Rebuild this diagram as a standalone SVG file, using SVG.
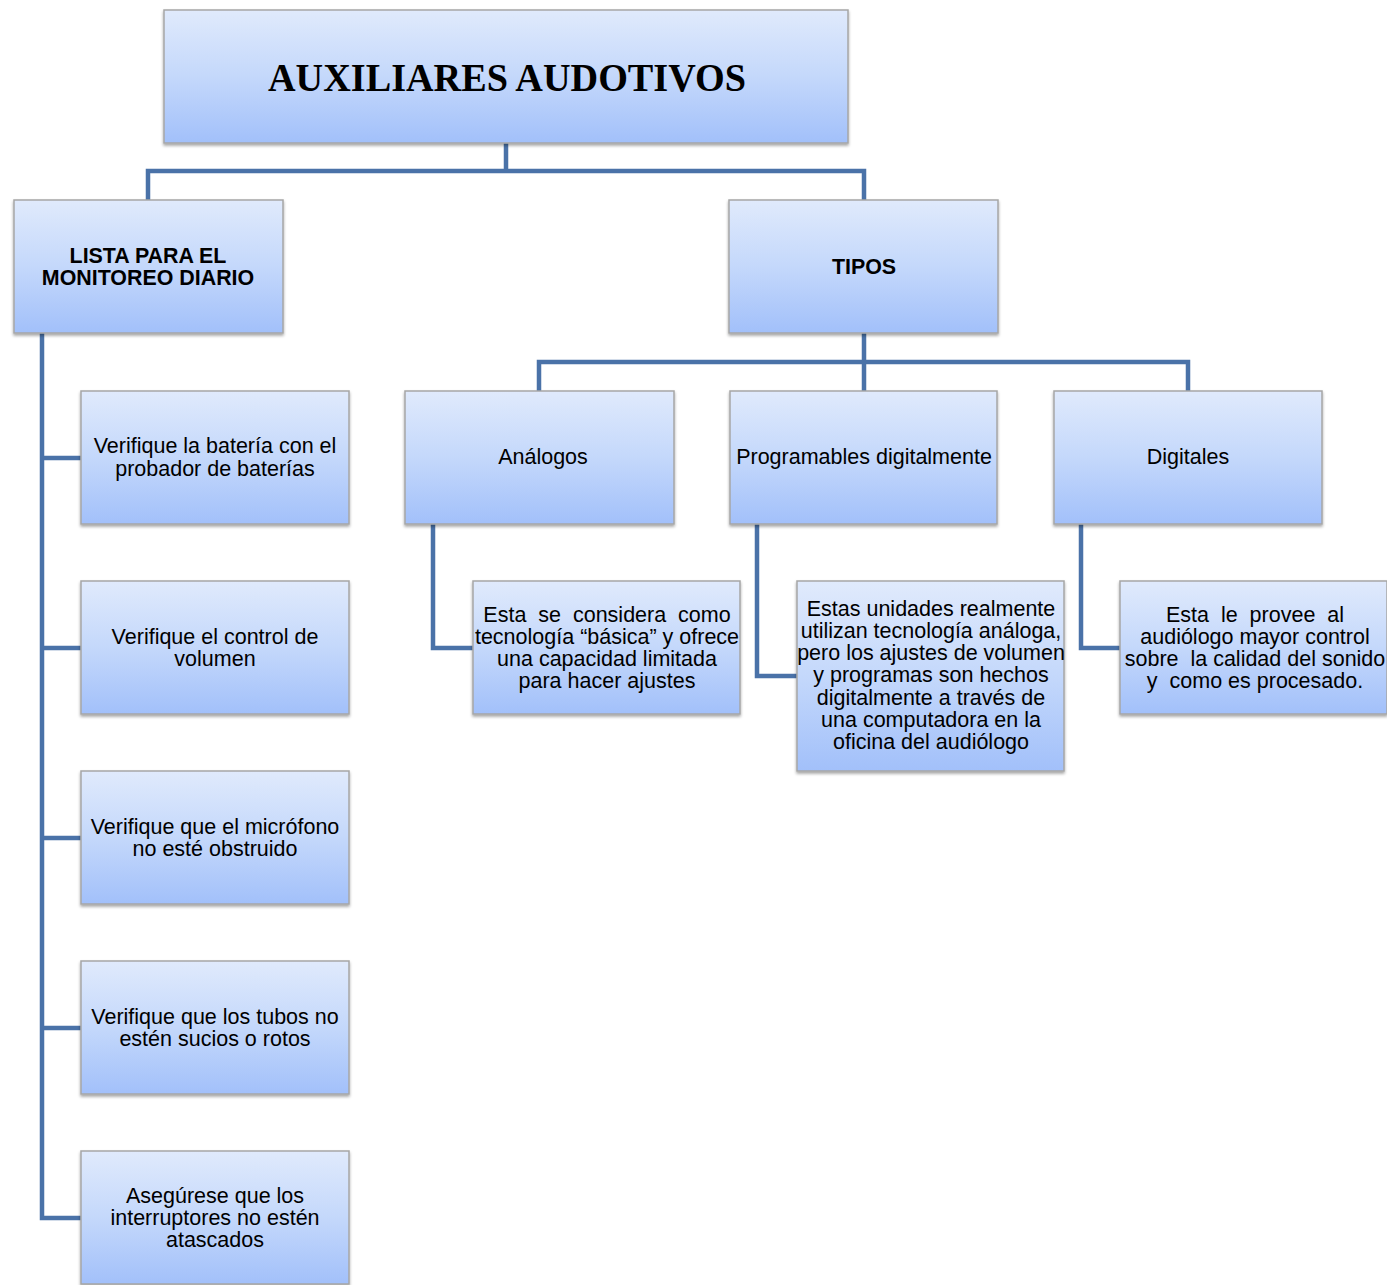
<svg xmlns="http://www.w3.org/2000/svg" width="1387" height="1285" viewBox="0 0 1387 1285">
<defs>
<linearGradient id="g" x1="0" y1="0" x2="0" y2="1">
<stop offset="0" stop-color="#e0eafc"/>
<stop offset="0.5" stop-color="#c4d8fb"/>
<stop offset="1" stop-color="#a2c0fa"/>
</linearGradient>
<filter id="sh" x="-5%" y="-5%" width="110%" height="115%">
<feDropShadow dx="0" dy="2" stdDeviation="1.6" flood-color="#000" flood-opacity="0.35"/>
</filter>
</defs>
<style>
.box{fill:url(#g);stroke:#a6a6a6;stroke-width:1.5;filter:url(#sh)}
.t{font-family:"Liberation Sans",Arial,sans-serif;font-size:21.5px;fill:#000;text-anchor:middle}
.b{font-family:"Liberation Sans",Arial,sans-serif;font-size:21.4px;font-weight:bold;fill:#000;text-anchor:middle}
.c{fill:none;stroke:#4a72a8;stroke-width:4.5;stroke-linejoin:miter}
</style>
<rect width="1387" height="1285" fill="#fff"/>
<g id="connectors">
<path class="c" d="M506,143 V171 M148,200 V171 H864 V200"/>
<path class="c" d="M42,333 V1218 H81 M42,458 H81 M42,648 H81 M42,838 H81 M42,1028 H81"/>
<path class="c" d="M864,333 V391 M539,391 V362 H1188 V391"/>
<path class="c" d="M433,524 V648 H473"/>
<path class="c" d="M757,524 V676 H797"/>
<path class="c" d="M1081,524 V648 H1120"/>
</g>
<g id="title">
<rect class="box" x="164" y="10" width="684" height="133"/>
<text x="507" y="91" font-family="'Liberation Serif','Times New Roman',serif" font-weight="bold" font-size="40" text-anchor="middle" textLength="478" lengthAdjust="spacingAndGlyphs">AUXILIARES AUDOTIVOS</text>
</g>
<g id="lista">
<rect class="box" x="14" y="200" width="269" height="133"/>
<text class="b" x="148" y="263">LISTA PARA EL</text>
<text class="b" x="148" y="285">MONITOREO DIARIO</text>
</g>
<g id="tipos">
<rect class="box" x="729" y="200" width="269" height="133"/>
<text class="b" x="864" y="274">TIPOS</text>
</g>
<g id="item1">
<rect class="box" x="81" y="391" width="268" height="133"/>
<text class="t" x="215" y="453">Verifique la batería con el</text>
<text class="t" x="215" y="476">probador de baterías</text>
</g>
<g id="item2">
<rect class="box" x="81" y="581" width="268" height="133"/>
<text class="t" x="215" y="644">Verifique el control de</text>
<text class="t" x="215" y="666">volumen</text>
</g>
<g id="item3">
<rect class="box" x="81" y="771" width="268" height="133"/>
<text class="t" x="215" y="834">Verifique que el micrófono</text>
<text class="t" x="215" y="856">no esté obstruido</text>
</g>
<g id="item4">
<rect class="box" x="81" y="961" width="268" height="133"/>
<text class="t" x="215" y="1024">Verifique que los tubos no</text>
<text class="t" x="215" y="1046">estén sucios o rotos</text>
</g>
<g id="item5">
<rect class="box" x="81" y="1151" width="268" height="133"/>
<text class="t" x="215" y="1203">Asegúrese que los</text>
<text class="t" x="215" y="1225">interruptores no estén</text>
<text class="t" x="215" y="1247">atascados</text>
</g>
<g id="analogos">
<rect class="box" x="405" y="391" width="269" height="133"/>
<text class="t" x="543" y="464">Análogos</text>
</g>
<g id="programables">
<rect class="box" x="730" y="391" width="267" height="133"/>
<text class="t" x="864" y="464">Programables digitalmente</text>
</g>
<g id="digitales">
<rect class="box" x="1054" y="391" width="268" height="133"/>
<text class="t" x="1188" y="464">Digitales</text>
</g>
<g id="analogos-desc">
<rect class="box" x="473" y="581" width="267" height="133"/>
<text class="t" x="607" y="622" xml:space="preserve">Esta  se  considera  como</text>
<text class="t" x="607" y="644">tecnología “básica” y ofrece</text>
<text class="t" x="607" y="666">una capacidad limitada</text>
<text class="t" x="607" y="688">para hacer ajustes</text>
</g>
<g id="programables-desc">
<rect class="box" x="797" y="581" width="267" height="190"/>
<text class="t" x="931" y="616">Estas unidades realmente</text>
<text class="t" x="931" y="638">utilizan tecnología análoga,</text>
<text class="t" x="931" y="660">pero los ajustes de volumen</text>
<text class="t" x="931" y="682">y programas son hechos</text>
<text class="t" x="931" y="705">digitalmente a través de</text>
<text class="t" x="931" y="727">una computadora en la</text>
<text class="t" x="931" y="749">oficina del audiólogo</text>
</g>
<g id="digitales-desc">
<rect class="box" x="1120" y="581" width="267" height="133"/>
<text class="t" x="1255" y="622" xml:space="preserve">Esta  le  provee  al</text>
<text class="t" x="1255" y="644">audiólogo mayor control</text>
<text class="t" x="1255" y="666" xml:space="preserve">sobre  la calidad del sonido</text>
<text class="t" x="1255" y="688" xml:space="preserve">y  como es procesado.</text>
</g>
</svg>
